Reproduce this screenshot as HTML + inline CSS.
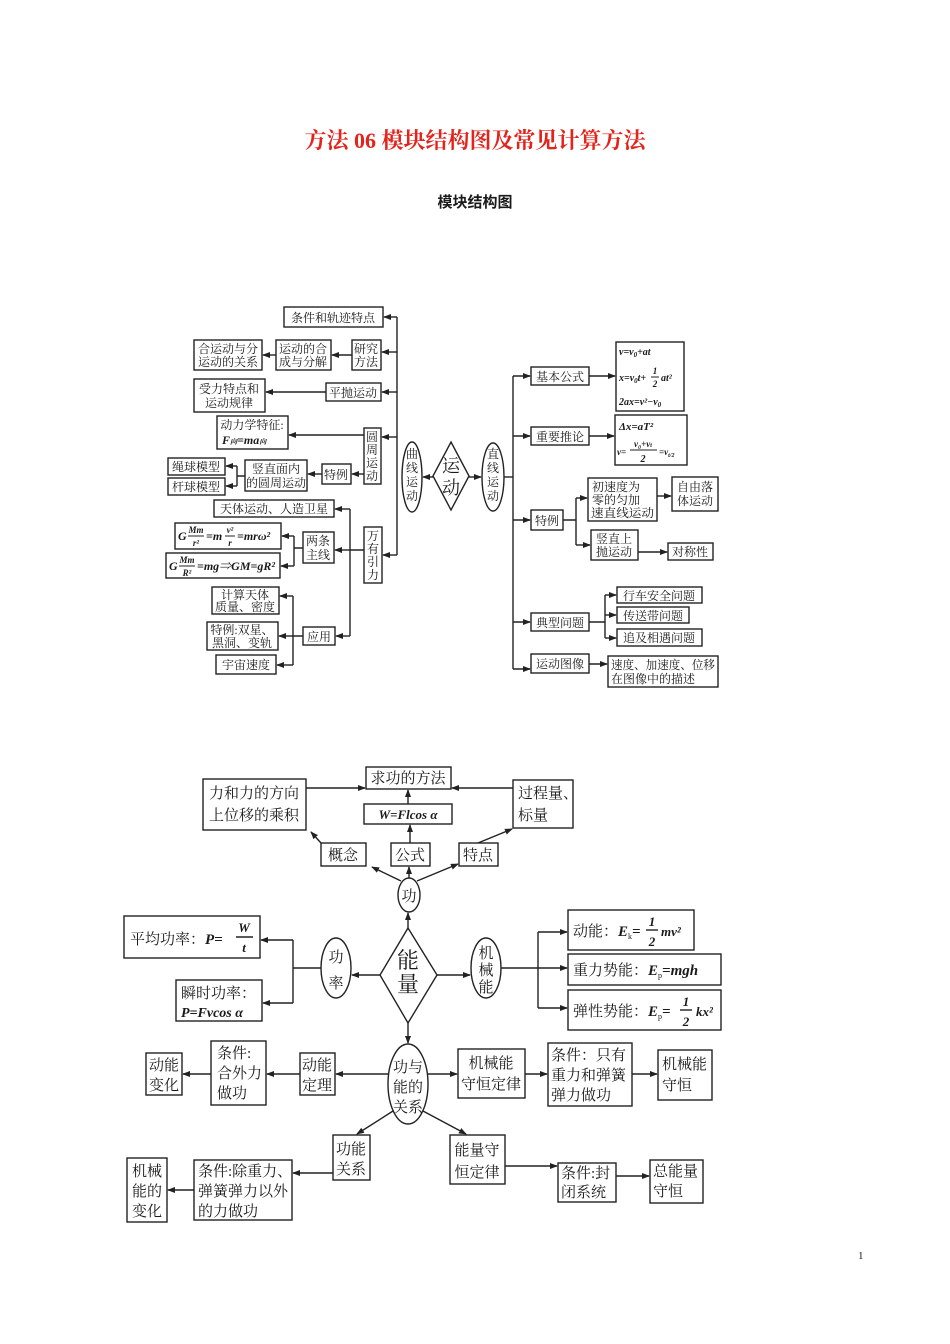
<!DOCTYPE html>
<html><head><meta charset="utf-8">
<style>
html,body{margin:0;padding:0;background:#fff;}
svg{display:block;}
text{font-family:"Liberation Serif","Noto Serif CJK SC",serif;fill:#1a1a1a;}
.b{fill:#fff;stroke:#222;stroke-width:1.4;}
.l{stroke:#222;stroke-width:1.4;fill:none;}
.f{stroke:#222;stroke-width:1;fill:none;}
.a{stroke:#222;stroke-width:1.4;fill:none;marker-end:url(#ar);}
.t{font-size:12px;}
.t2{font-size:15px;}
.i{font-style:italic;font-weight:bold;}
</style></head><body>
<svg width="950" height="1344" viewBox="0 0 950 1344" xmlns="http://www.w3.org/2000/svg">
<defs><marker id="ar" markerWidth="8" markerHeight="6" refX="7" refY="3" orient="auto" markerUnits="userSpaceOnUse"><path d="M0,0 L8,3 L0,6 z" fill="#222"/></marker></defs>

<text x="475" y="148" text-anchor="middle" style="font-size:22px;font-weight:bold;fill:#e3241c;font-family:'Liberation Serif','Noto Serif CJK SC',serif;">方法 06  模块结构图及常见计算方法</text>
<text x="475" y="207" text-anchor="middle" style="font-size:15px;font-weight:bold;font-family:'Liberation Sans','Noto Sans CJK SC',sans-serif;">模块结构图</text>
<text x="858" y="1259" style="font-size:11px;">1</text>

<!-- ===== Diagram 1 ===== -->
<path class="l" d="M397,317 V555"/>
<path class="a" d="M397,317 H384"/>
<path class="a" d="M397,352 H382"/>
<path class="a" d="M397,392 H382"/>
<path class="a" d="M397,437 H382"/>
<path class="a" d="M397,555 H383"/>
<path class="a" d="M422,477 H405"/>
<ellipse class="b" cx="412" cy="477" rx="10" ry="35"/>
<text class="t" x="412" y="458" text-anchor="middle">曲</text><text class="t" x="412" y="472" text-anchor="middle">线</text><text class="t" x="412" y="486" text-anchor="middle">运</text><text class="t" x="412" y="500" text-anchor="middle">动</text>
<path class="a" d="M433,477 H423"/>
<path class="b" d="M451,442 L469,476 L451,510 L433,476 z"/>
<text x="451" y="472" text-anchor="middle" style="font-size:18px">运</text><text x="451" y="494" text-anchor="middle" style="font-size:18px">动</text>
<path class="a" d="M469,477 H481"/>
<ellipse class="b" cx="493" cy="477" rx="11" ry="34"/>
<text class="t" x="493" y="458" text-anchor="middle">直</text><text class="t" x="493" y="472" text-anchor="middle">线</text><text class="t" x="493" y="486" text-anchor="middle">运</text><text class="t" x="493" y="500" text-anchor="middle">动</text>
<path class="l" d="M504,477 H513"/>

<rect class="b" x="284" y="307" width="99" height="20"/><text class="t" x="333" y="322" text-anchor="middle">条件和轨迹特点</text>
<rect class="b" x="352" y="340" width="29" height="30"/><text class="t" x="366" y="353" text-anchor="middle">研究</text><text class="t" x="366" y="366" text-anchor="middle">方法</text>
<path class="a" d="M352,355 H332"/>
<rect class="b" x="276" y="340" width="55" height="30"/><text class="t" x="303" y="353" text-anchor="middle">运动的合</text><text class="t" x="303" y="366" text-anchor="middle">成与分解</text>
<path class="a" d="M276,355 H263"/>
<rect class="b" x="194" y="340" width="68" height="30"/><text class="t" x="228" y="353" text-anchor="middle">合运动与分</text><text class="t" x="228" y="366" text-anchor="middle">运动的关系</text>
<rect class="b" x="326" y="383" width="55" height="18"/><text class="t" x="353" y="397" text-anchor="middle">平抛运动</text>
<path class="a" d="M326,392 H266"/>
<rect class="b" x="194" y="379" width="71" height="33"/><text class="t" x="229" y="393" text-anchor="middle">受力特点和</text><text class="t" x="229" y="407" text-anchor="middle">运动规律</text>
<rect class="b" x="364" y="428" width="17" height="56"/>
<text class="t" x="372" y="441" text-anchor="middle">圆</text><text class="t" x="372" y="454" text-anchor="middle">周</text><text class="t" x="372" y="467" text-anchor="middle">运</text><text class="t" x="372" y="480" text-anchor="middle">动</text>
<path class="a" d="M364,435 H289"/>
<rect class="b" x="217" y="416" width="71" height="33"/><text class="t" x="252" y="429" text-anchor="middle">动力学特征:</text><text class="i" x="222" y="444" style="font-size:12px">F<tspan style="font-size:7px">向</tspan>=ma<tspan style="font-size:7px">向</tspan></text>
<path class="a" d="M364,474 H352"/>
<rect class="b" x="322" y="464" width="29" height="20"/><text class="t" x="336" y="479" text-anchor="middle">特例</text>
<path class="a" d="M322,474 H308"/>
<rect class="b" x="245" y="460" width="62" height="31"/><text class="t" x="276" y="473" text-anchor="middle">竖直面内</text><text class="t" x="276" y="487" text-anchor="middle">的圆周运动</text>
<path class="l" d="M245,476 H237 M237,466 V486"/><path class="a" d="M237,466 H226"/><path class="a" d="M237,486 H226"/>
<rect class="b" x="168" y="458" width="57" height="17"/><text class="t" x="196" y="471" text-anchor="middle">绳球模型</text>
<rect class="b" x="168" y="478" width="57" height="17"/><text class="t" x="196" y="491" text-anchor="middle">杆球模型</text>
<rect class="b" x="364" y="527" width="18" height="56"/>
<text class="t" x="373" y="540" text-anchor="middle">万</text><text class="t" x="373" y="553" text-anchor="middle">有</text><text class="t" x="373" y="566" text-anchor="middle">引</text><text class="t" x="373" y="579" text-anchor="middle">力</text>
<path class="l" d="M364,550 H350 M350,509 V636"/>
<path class="a" d="M350,509 H335"/><path class="a" d="M350,550 H335"/><path class="a" d="M350,636 H336"/>
<rect class="b" x="214" y="500" width="120" height="17"/><text class="t" x="274" y="513" text-anchor="middle">天体运动、人造卫星</text>
<rect class="b" x="303" y="532" width="31" height="31"/><text class="t" x="318" y="545" text-anchor="middle">两条</text><text class="t" x="318" y="559" text-anchor="middle">主线</text>
<path class="l" d="M303,548 H294 M294,536 V566"/><path class="a" d="M294,536 H282"/><path class="a" d="M294,566 H281"/>
<rect class="b" x="175" y="523" width="106" height="26"/>
<text class="i" x="178" y="540" style="font-size:12px">G</text>
<text class="i" x="196" y="533" text-anchor="middle" style="font-size:9px">Mm</text><path class="f" d="M188,536 H204"/><text class="i" x="196" y="546" text-anchor="middle" style="font-size:9px">r²</text>
<text class="i" x="206" y="540" style="font-size:12px">=m</text>
<text class="i" x="230" y="533" text-anchor="middle" style="font-size:9px">v²</text><path class="f" d="M225,536 H235"/><text class="i" x="230" y="546" text-anchor="middle" style="font-size:9px">r</text>
<text class="i" x="237" y="540" style="font-size:12px">=mrω²</text>
<rect class="b" x="166" y="553" width="114" height="25"/>
<text class="i" x="169" y="570" style="font-size:12px">G</text>
<text class="i" x="187" y="563" text-anchor="middle" style="font-size:9px">Mm</text><path class="f" d="M179,566 H195"/><text class="i" x="187" y="576" text-anchor="middle" style="font-size:9px">R²</text>
<text class="i" x="197" y="570" style="font-size:12px">=mg⇒GM=gR²</text>
<rect class="b" x="212" y="587" width="67" height="27"/><text class="t" x="245" y="599" text-anchor="middle">计算天体</text><text class="t" x="245" y="611" text-anchor="middle">质量、密度</text>
<rect class="b" x="207" y="622" width="71" height="28"/><text class="t" x="242" y="634" text-anchor="middle">特例:双星、</text><text class="t" x="242" y="647" text-anchor="middle">黑洞、变轨</text>
<rect class="b" x="216" y="655" width="60" height="19"/><text class="t" x="246" y="669" text-anchor="middle">宇宙速度</text>
<rect class="b" x="303" y="627" width="32" height="18"/><text class="t" x="319" y="641" text-anchor="middle">应用</text>
<path class="l" d="M303,636 H293 M293,596 V665"/><path class="a" d="M293,596 H280"/><path class="a" d="M293,636 H279"/><path class="a" d="M293,665 H277"/>

<!-- right side -->
<path class="l" d="M513,376 V669"/>
<path class="a" d="M513,376 H530"/><path class="a" d="M513,436 H530"/><path class="a" d="M513,520 H530"/><path class="a" d="M513,622 H530"/><path class="a" d="M513,669 H530"/>
<rect class="b" x="531" y="367" width="58" height="18"/><text class="t" x="560" y="381" text-anchor="middle">基本公式</text>
<path class="a" d="M589,376 H615"/>
<rect class="b" x="616" y="342" width="68" height="69"/>
<text class="i" x="619" y="355" style="font-size:10px">v=v<tspan font-size="7" dy="2">0</tspan><tspan dy="-2">+at</tspan></text>
<text class="i" x="619" y="381" style="font-size:10px">x=v<tspan font-size="7" dy="2">0</tspan><tspan dy="-2">t+</tspan></text>
<text class="i" x="655" y="374" text-anchor="middle" style="font-size:9px">1</text><path class="f" d="M651,377 H659"/><text class="i" x="655" y="387" text-anchor="middle" style="font-size:9px">2</text>
<text class="i" x="661" y="381" style="font-size:10px">at²</text>
<text class="i" x="619" y="405" style="font-size:10px">2ax=v²−v<tspan font-size="7" dy="2">0</tspan></text>
<rect class="b" x="531" y="427" width="58" height="18"/><text class="t" x="560" y="441" text-anchor="middle">重要推论</text>
<path class="a" d="M589,436 H614"/>
<rect class="b" x="615" y="415" width="72" height="50"/>
<text class="i" x="619" y="430" style="font-size:11px">Δx=aT²</text>
<text class="i" x="617" y="455" style="font-size:9px">v=</text>
<text class="i" x="643" y="447" text-anchor="middle" style="font-size:9px">v₀+v<tspan font-size="6">t</tspan></text>
<path class="f" d="M630,450 H657"/><text class="i" x="643" y="462" text-anchor="middle" style="font-size:10px">2</text>
<text class="i" x="659" y="455" style="font-size:9px">=v<tspan font-size="6" dy="2">t/2</tspan></text>
<rect class="b" x="531" y="510" width="32" height="20"/><text class="t" x="547" y="525" text-anchor="middle">特例</text>
<path class="l" d="M563,520 H576 M576,498 V545"/><path class="a" d="M576,498 H587"/><path class="a" d="M576,545 H590"/>
<rect class="b" x="588" y="478" width="69" height="43"/><text class="t" x="592" y="491">初速度为</text><text class="t" x="592" y="504">零的匀加</text><text class="t" x="591" y="517" textLength="63" lengthAdjust="spacingAndGlyphs">速直线运动</text>
<path class="a" d="M657,496 H671"/>
<rect class="b" x="672" y="477" width="46" height="34"/><text class="t" x="695" y="491" text-anchor="middle">自由落</text><text class="t" x="695" y="505" text-anchor="middle">体运动</text>
<rect class="b" x="591" y="530" width="47" height="30"/><text class="t" x="614" y="543" text-anchor="middle">竖直上</text><text class="t" x="614" y="556" text-anchor="middle">抛运动</text>
<path class="a" d="M638,552 H667"/>
<rect class="b" x="668" y="543" width="45" height="17"/><text class="t" x="690" y="556" text-anchor="middle">对称性</text>
<rect class="b" x="531" y="613" width="58" height="18"/><text class="t" x="560" y="627" text-anchor="middle">典型问题</text>
<path class="l" d="M589,622 H605 M605,595 V638"/><path class="a" d="M605,595 H616"/><path class="a" d="M605,615 H616"/><path class="a" d="M605,638 H616"/>
<rect class="b" x="617" y="587" width="85" height="16"/><text class="t" x="659" y="600" text-anchor="middle">行车安全问题</text>
<rect class="b" x="617" y="607" width="72" height="16"/><text class="t" x="653" y="620" text-anchor="middle">传送带问题</text>
<rect class="b" x="617" y="629" width="85" height="17"/><text class="t" x="659" y="642" text-anchor="middle">追及相遇问题</text>
<rect class="b" x="531" y="654" width="58" height="19"/><text class="t" x="560" y="668" text-anchor="middle">运动图像</text>
<path class="a" d="M589,664 H607"/>
<rect class="b" x="608" y="656" width="110" height="31"/><text class="t" x="611" y="669" textLength="104" lengthAdjust="spacingAndGlyphs">速度、加速度、位移</text><text class="t" x="611" y="683">在图像中的描述</text>

<!-- ===== Diagram 2 ===== -->
<rect class="b" x="366" y="767" width="85" height="22"/><text class="t2" x="408" y="783" text-anchor="middle">求功的方法</text>
<rect class="b" x="203" y="779" width="103" height="51"/><text class="t2" x="254" y="798" text-anchor="middle">力和力的方向</text><text class="t2" x="254" y="820" text-anchor="middle">上位移的乘积</text>
<path class="a" d="M306,788 H365"/>
<rect class="b" x="513" y="780" width="60" height="48"/><text class="t2" x="518" y="798">过程量、</text><text class="t2" x="518" y="820">标量</text>
<path class="a" d="M513,788 H452"/>
<rect class="b" x="364" y="804" width="88" height="20"/><text class="i" x="408" y="819" text-anchor="middle" style="font-size:13px">W=Flcos α</text>
<path class="a" d="M408,804 V790"/>
<rect class="b" x="321" y="843" width="45" height="23"/><text class="t2" x="343" y="860" text-anchor="middle">概念</text>
<rect class="b" x="391" y="843" width="39" height="23"/><text class="t2" x="410" y="860" text-anchor="middle">公式</text>
<rect class="b" x="459" y="843" width="39" height="23"/><text class="t2" x="478" y="860" text-anchor="middle">特点</text>
<path class="a" d="M321,843 L311,832"/><path class="a" d="M410,843 V825"/><path class="a" d="M478,843 L512,829"/>
<ellipse class="b" cx="409" cy="895" rx="11" ry="17"/><text class="t2" x="409" y="901" text-anchor="middle">功</text>
<path class="a" d="M401,881 L372,867"/><path class="a" d="M409,878 V867"/><path class="a" d="M417,881 L458,864"/>
<path class="b" d="M408,928 L437,975 L408,1023 L380,975 z"/>
<text x="408" y="968" text-anchor="middle" style="font-size:22px">能</text><text x="408" y="992" text-anchor="middle" style="font-size:22px">量</text>
<path class="a" d="M408,928 V913"/>
<path class="a" d="M380,975 H352"/>
<ellipse class="b" cx="336" cy="968" rx="15" ry="30"/><text class="t2" x="336" y="962" text-anchor="middle">功</text><text class="t2" x="336" y="988" text-anchor="middle">率</text>
<path class="l" d="M321,968 H293 M293,940 V1003"/><path class="a" d="M293,940 H261"/><path class="a" d="M293,1003 H263"/>
<rect class="b" x="124" y="916" width="136" height="42"/><text class="t2" x="130" y="944">平均功率：<tspan class="i">P=</tspan></text>
<text class="i" x="244" y="932" text-anchor="middle" style="font-size:13px">W</text><path class="l" d="M236,937 H253"/><text class="i" x="244" y="952" text-anchor="middle" style="font-size:13px">t</text>
<rect class="b" x="176" y="980" width="86" height="41"/><text class="t2" x="181" y="998">瞬时功率：</text><text class="i" x="181" y="1017" style="font-size:14px">P=Fvcos α</text>
<path class="a" d="M437,975 H470"/>
<ellipse class="b" cx="486" cy="968" rx="15" ry="30"/><text class="t2" x="486" y="958" text-anchor="middle">机</text><text class="t2" x="486" y="975" text-anchor="middle">械</text><text class="t2" x="486" y="992" text-anchor="middle">能</text>
<path class="l" d="M501,968 H538 M538,932 V1008"/><path class="a" d="M538,932 H567"/><path class="a" d="M538,968 H567"/><path class="a" d="M538,1008 H567"/>
<rect class="b" x="568" y="910" width="126" height="40"/><text class="t2" x="573" y="936">动能：<tspan class="i">E</tspan><tspan font-size="8" dy="3">k</tspan><tspan class="i" dy="-3">=</tspan></text>
<text class="i" x="652" y="926" text-anchor="middle" style="font-size:13px">1</text><path class="l" d="M646,930 H658"/><text class="i" x="652" y="946" text-anchor="middle" style="font-size:13px">2</text><text class="i" x="661" y="936" style="font-size:13px">mv²</text>
<rect class="b" x="568" y="954" width="153" height="31"/><text class="t2" x="573" y="975">重力势能：<tspan class="i">E</tspan><tspan font-size="8" dy="3">p</tspan><tspan class="i" dy="-3">=mgh</tspan></text>
<rect class="b" x="568" y="990" width="153" height="40"/><text class="t2" x="573" y="1016">弹性势能：<tspan class="i">E</tspan><tspan font-size="8" dy="3">p</tspan><tspan class="i" dy="-3">=</tspan></text>
<text class="i" x="686" y="1006" text-anchor="middle" style="font-size:13px">1</text><path class="l" d="M680,1010 H692"/><text class="i" x="686" y="1026" text-anchor="middle" style="font-size:13px">2</text><text class="i" x="696" y="1016" style="font-size:13px">kx²</text>
<path class="a" d="M408,1023 V1043"/>
<ellipse class="b" cx="408" cy="1084" rx="20" ry="40"/><text class="t2" x="408" y="1072" text-anchor="middle">功与</text><text class="t2" x="408" y="1092" text-anchor="middle">能的</text><text class="t2" x="408" y="1112" text-anchor="middle">关系</text>
<path class="a" d="M388,1074 H336"/>
<rect class="b" x="300" y="1053" width="35" height="42"/><text class="t2" x="317" y="1070" text-anchor="middle">动能</text><text class="t2" x="317" y="1090" text-anchor="middle">定理</text>
<path class="a" d="M300,1074 H267"/>
<rect class="b" x="211" y="1041" width="55" height="64"/><text class="t2" x="217" y="1058">条件:</text><text class="t2" x="217" y="1078">合外力</text><text class="t2" x="217" y="1098">做功</text>
<path class="a" d="M211,1074 H183"/>
<rect class="b" x="146" y="1053" width="36" height="42"/><text class="t2" x="164" y="1070" text-anchor="middle">动能</text><text class="t2" x="164" y="1090" text-anchor="middle">变化</text>
<path class="a" d="M428,1074 H457"/>
<rect class="b" x="458" y="1049" width="67" height="49"/><text class="t2" x="491" y="1068" text-anchor="middle">机械能</text><text class="t2" x="491" y="1089" text-anchor="middle">守恒定律</text>
<path class="a" d="M525,1074 H547"/>
<rect class="b" x="548" y="1043" width="84" height="63"/><text class="t2" x="551" y="1060">条件：只有</text><text class="t2" x="551" y="1080">重力和弹簧</text><text class="t2" x="551" y="1100">弹力做功</text>
<path class="a" d="M632,1074 H657"/>
<rect class="b" x="658" y="1050" width="54" height="50"/><text class="t2" x="662" y="1069">机械能</text><text class="t2" x="662" y="1090">守恒</text>
<path class="a" d="M393,1111 L357,1134"/>
<rect class="b" x="333" y="1135" width="37" height="45"/><text class="t2" x="351" y="1154" text-anchor="middle">功能</text><text class="t2" x="351" y="1174" text-anchor="middle">关系</text>
<path class="a" d="M333,1173 H293"/>
<rect class="b" x="194" y="1160" width="98" height="60"/><text class="t2" x="198" y="1176">条件:除重力、</text><text class="t2" x="198" y="1196">弹簧弹力以外</text><text class="t2" x="198" y="1216">的力做功</text>
<path class="a" d="M194,1190 H168"/>
<rect class="b" x="127" y="1158" width="40" height="64"/><text class="t2" x="147" y="1176" text-anchor="middle">机械</text><text class="t2" x="147" y="1196" text-anchor="middle">能的</text><text class="t2" x="147" y="1216" text-anchor="middle">变化</text>
<path class="a" d="M423,1111 L466,1134"/>
<rect class="b" x="450" y="1135" width="55" height="49"/><text class="t2" x="477" y="1155" text-anchor="middle">能量守</text><text class="t2" x="477" y="1177" text-anchor="middle">恒定律</text>
<path class="a" d="M505,1166 H557"/>
<rect class="b" x="558" y="1163" width="58" height="39"/><text class="t2" x="561" y="1178">条件:封</text><text class="t2" x="561" y="1197">闭系统</text>
<path class="a" d="M616,1176 H649"/>
<rect class="b" x="650" y="1160" width="53" height="43"/><text class="t2" x="653" y="1176">总能量</text><text class="t2" x="653" y="1196">守恒</text>
</svg>
</body></html>
